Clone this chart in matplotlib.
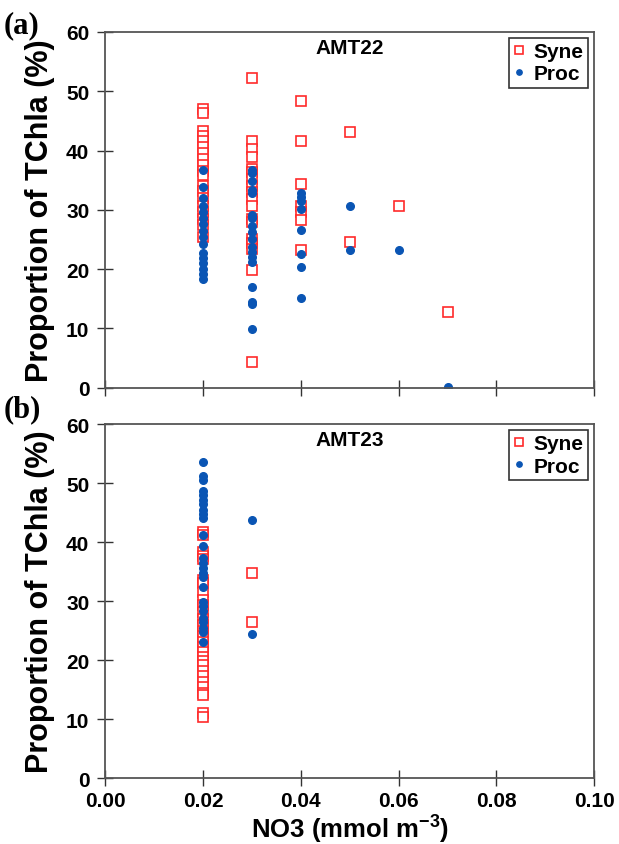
import matplotlib
matplotlib.use('Agg')
import matplotlib.pyplot as plt

# NO3 levels (mmol m-3) and readings (% of TChla) per level
AMT22_SYNE_NO3 = [0.02, 0.03, 0.04, 0.05, 0.06, 0.07]
AMT22_SYNE = [
    [47.0, 46.4, 43.3, 42.4, 41.6, 40.6, 39.6, 38.6, 37.5, 36.6, 35.8, 34.0, 33.1, 32.0, 30.7, 29.6, 28.5, 27.4, 25.4],
    [52.3, 41.6, 40.3, 38.9, 36.9, 36.3, 35.2, 34.1, 33.0, 31.9, 30.7, 28.5, 27.9, 25.1, 24.4, 23.4, 19.8, 4.3],
    [48.3, 41.6, 34.3, 30.7, 29.6, 28.3, 23.3],
    [43.1, 24.6],
    [30.7],
    [12.7],
]
AMT22_PROC_NO3 = [0.02, 0.03, 0.04, 0.05, 0.06, 0.07]
AMT22_PROC = [
    [36.8, 33.8, 32.0, 30.7, 29.6, 28.6, 27.6, 26.5, 25.4, 24.3, 22.7, 21.8, 21.0, 20.1, 19.1, 18.3],
    [36.8, 36.2, 34.8, 33.4, 32.9, 29.2, 28.6, 27.2, 26.3, 25.1, 23.7, 22.9, 22.0, 21.2, 17.0, 14.5, 14.1, 9.9],
    [32.9, 32.2, 31.5, 30.1, 26.6, 22.6, 20.4, 15.1],
    [30.7, 23.3],
    [23.3],
    [0.1],
]
AMT23_SYNE_NO3 = [0.02, 0.03]
AMT23_SYNE = [
    [41.7, 41.2, 38.3, 37.7, 37.1, 33.6, 33.0, 31.5, 30.2, 29.3, 28.2, 27.0, 26.0, 25.0, 24.0,
     23.1, 22.2, 21.3, 20.5, 19.8, 19.1, 18.2, 17.3, 16.3, 15.5, 14.5, 14.0, 11.0, 10.3],
    [34.7, 26.5],
]
AMT23_PROC_NO3 = [0.02, 0.03]
AMT23_PROC = [
    [53.6, 51.2, 50.6, 48.6, 48.0, 47.2, 46.4, 45.5, 44.8, 44.0, 41.2, 39.3, 37.3, 36.5, 35.6,
     34.8, 34.0, 32.3, 29.9, 29.1, 28.3, 27.2, 26.4, 25.5, 24.7, 23.0],
    [43.7, 24.4],
]

X_TICKS = [0.00, 0.02, 0.04, 0.06, 0.08, 0.10]
Y_TICKS = [0, 10, 20, 30, 40, 50, 60]

RED = '#ff2a2a'
BLUE = '#0a55b4'
SPINE = '#555555'


def flatten(levels, groups):
    xs, ys = [], []
    for lvl, vals in zip(levels, groups):
        for v in vals:
            xs.append(lvl)
            ys.append(v)
    return xs, ys


def draw_panel(ax, title, syne, proc, show_xlabels):
    sx, sy = syne
    px, py = proc
    ax.plot(sx, sy, linestyle='none', marker='s', markersize=7.5,
            markerfacecolor='white', markeredgecolor=RED, markeredgewidth=1.2, label='Syne')
    ax.plot(px, py, linestyle='none', marker='o', markersize=5.5,
            markerfacecolor=BLUE, markeredgecolor=BLUE, label='Proc')
    ax.set_xlim(0, 0.1)
    ax.set_ylim(0, 60)
    ax.set_xticks(X_TICKS)
    ax.set_yticks(Y_TICKS)
    if show_xlabels:
        ax.set_xticklabels([f'{t:.2f}' for t in X_TICKS])
    else:
        ax.set_xticklabels([])
    ax.tick_params(direction='inout', length=11, width=1.0, color='#333333',
                   labelsize=15, pad=6)
    ax.tick_params(axis='x', pad=4)
    for lbl in ax.get_xticklabels() + ax.get_yticklabels():
        lbl.set_fontweight('bold')
    for sp in ax.spines.values():
        sp.set_color(SPINE)
        sp.set_linewidth(1.3)
    ax.text(0.5, 0.955, title, transform=ax.transAxes, ha='center', va='center',
            fontsize=15, fontweight='bold')
    leg = ax.legend(loc='upper right', frameon=True, fancybox=False,
                    prop={'size': 15, 'weight': 'bold'}, handlelength=0.6,
                    handletextpad=0.4, borderpad=0.2, labelspacing=0.15,
                    borderaxespad=0.3, markerscale=0.7)
    leg.get_frame().set_edgecolor('black')
    leg.get_frame().set_linewidth(1.2)
    ax.set_ylabel('Proportion of TChla (%)', fontsize=22, fontweight='bold', labelpad=8)


plt.rcParams['font.family'] = ['Liberation Sans', 'DejaVu Sans']
plt.rcParams['mathtext.fontset'] = 'custom'
plt.rcParams['mathtext.bf'] = 'Liberation Sans:bold'
plt.rcParams['mathtext.rm'] = 'Liberation Sans:bold'

fig = plt.figure(figsize=(6.19, 8.45), dpi=100)
ax_a = fig.add_axes([0.170, 0.540, 0.790, 0.421])
ax_b = fig.add_axes([0.170, 0.078, 0.790, 0.419])

draw_panel(ax_a, 'AMT22', flatten(AMT22_SYNE_NO3, AMT22_SYNE),
           flatten(AMT22_PROC_NO3, AMT22_PROC), False)
draw_panel(ax_b, 'AMT23', flatten(AMT23_SYNE_NO3, AMT23_SYNE),
           flatten(AMT23_PROC_NO3, AMT23_PROC), True)

fig.text(0.565, 0.009, 'NO3 (mmol m$^{\\mathbf{-3}}$)', fontsize=18.5, fontweight='bold',
         ha='center', va='baseline')

fig.text(0.006, 0.970, '(a)', family='Liberation Serif', fontsize=22, fontweight='bold',
         ha='left', va='center')
fig.text(0.006, 0.515, '(b)', family='Liberation Serif', fontsize=22, fontweight='bold',
         ha='left', va='center')

fig.savefig('out.png', dpi=100)
